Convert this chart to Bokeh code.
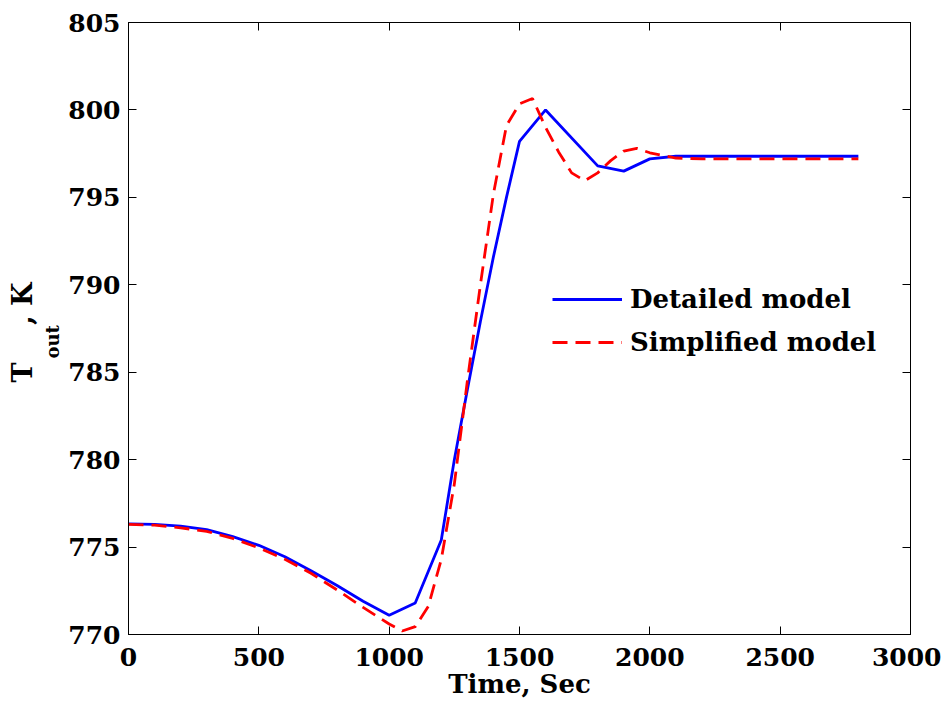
import math
from bokeh.plotting import figure
from bokeh.models import Range1d, LinearAxis, Legend, LegendItem, Title, FixedTicker
from bokeh.embed import file_html
from bokeh.resources import INLINE

# ---- data ----
time_detailed = [0, 100, 200, 300, 400, 500, 600, 700, 800, 900, 1000, 1100, 1200,
                 1250, 1300, 1350, 1400, 1450, 1500, 1600, 1800, 1900, 2000, 2100,
                 2200, 2300, 2400, 2500, 2600, 2700, 2800]
tout_detailed = [776.33, 776.3, 776.2, 776.0, 775.6, 775.1, 774.45, 773.65, 772.8, 771.9,
                 771.1, 771.8, 775.4, 780.0, 784.0, 787.9, 791.6, 795.0, 798.2, 800.0,
                 796.8, 796.5, 797.2, 797.35, 797.35, 797.35, 797.35, 797.35, 797.35,
                 797.35, 797.35]

time_simplified = [0, 100, 200, 300, 400, 500, 600, 700, 800, 900, 1000, 1050, 1100, 1150,
                   1200, 1250, 1300, 1350, 1400, 1450, 1500, 1550, 1600, 1650, 1700, 1750,
                   1800, 1850, 1900, 1950, 2000, 2100, 2200, 2400, 2600, 2800]
tout_simplified = [776.3, 776.25, 776.1, 775.9, 775.5, 774.95, 774.3, 773.5, 772.55, 771.55,
                   770.6, 770.2, 770.45, 771.6, 774.3, 778.6, 784.5, 790.0, 795.2, 799.1,
                   800.35, 800.65, 799.0, 797.6, 796.4, 795.95, 796.4, 797.1, 797.65, 797.8,
                   797.55, 797.25, 797.2, 797.2, 797.2, 797.2]

x_ticks = [0, 500, 1000, 1500, 2000, 2500, 3000]
y_ticks = [770, 775, 780, 785, 790, 795, 800, 805]
x_title = "Time, Sec"
y_title_main = "T\u00a0\u00a0\u00a0\u00a0, K"   # gap is filled by the subscript
y_title_sub = "out"
legend_labels = ["Detailed model", "Simplified model"]

# ---- figure ----
FONT = "DejaVu Serif"
X0, X1, Y0, Y1 = 0, 3000, 770, 805
W, H = 941, 704
BL, BR, BT, BB = 128, 31, 22, 70

p = figure(width=W, height=H, output_backend="svg", toolbar_location=None,
           x_range=Range1d(X0, X1), y_range=Range1d(Y0, Y1),
           min_border_left=BL, min_border_right=BR, min_border_top=BT, min_border_bottom=BB)
p.background_fill_color = "white"
p.border_fill_color = "white"
p.outline_line_color = "black"
p.outline_line_width = 1
p.xgrid.visible = False
p.ygrid.visible = False

for ax, ticks in ((p.xaxis[0], x_ticks), (p.yaxis[0], y_ticks)):
    ax.ticker = FixedTicker(ticks=ticks)
    ax.major_tick_in = 8
    ax.major_tick_out = 0
    ax.minor_tick_in = 0
    ax.minor_tick_out = 0
    ax.axis_line_color = "black"
    ax.major_tick_line_color = "black"
    ax.major_label_text_font = FONT
    ax.major_label_text_font_style = "bold"
    ax.major_label_text_font_size = "25px"
    ax.major_label_text_color = "black"

p.xaxis.major_label_standoff = 13
p.yaxis.major_label_standoff = 8
p.xaxis.axis_label = x_title
p.xaxis.axis_label_text_font = FONT
p.xaxis.axis_label_text_font_style = "bold"
p.xaxis.axis_label_text_font_size = "26px"
p.xaxis.axis_label_text_color = "black"
p.xaxis.axis_label_standoff = 0

for side, ticks in (("above", x_ticks), ("right", y_ticks)):
    ax = LinearAxis(ticker=FixedTicker(ticks=ticks), major_tick_in=8, major_tick_out=0,
                    minor_tick_in=0, minor_tick_out=0, major_label_text_font_size="0px",
                    major_label_text_color=None, major_label_standoff=0,
                    axis_line_color="black", major_tick_line_color="black")
    p.add_layout(ax, side)

r1 = p.line(time_detailed, tout_detailed, line_color="#0000ff", line_width=2.8)
r2 = p.line(time_simplified, tout_simplified, line_color="#ff0000", line_width=2.8,
            line_dash="15 8")

legend = Legend(items=[LegendItem(label=legend_labels[0], renderers=[r1]),
                       LegendItem(label=legend_labels[1], renderers=[r2])],
                location=(424, 277), padding=0, margin=0, spacing=13,
                glyph_width=70, glyph_height=30, label_height=30, label_standoff=8,
                label_text_font=FONT, label_text_font_style="bold",
                label_text_font_size="26px", label_text_color="black",
                border_line_alpha=0, background_fill_alpha=0)
p.add_layout(legend, "center")

# ---- y-axis title with subscript: two stacked titles in the left panel ----
frame_bottom = H - BB
p.add_layout(Title(text=y_title_sub, align="left", offset=frame_bottom - 358, standoff=5,
                   text_font=FONT, text_font_style="bold", text_font_size="18px",
                   text_color="black"), "left")
p.add_layout(Title(text=y_title_main, align="left", offset=frame_bottom - 382, standoff=0,
                   text_font=FONT, text_font_style="bold", text_font_size="27px",
                   text_color="black"), "left")

open("out.html", "w").write(file_html(p, INLINE))
